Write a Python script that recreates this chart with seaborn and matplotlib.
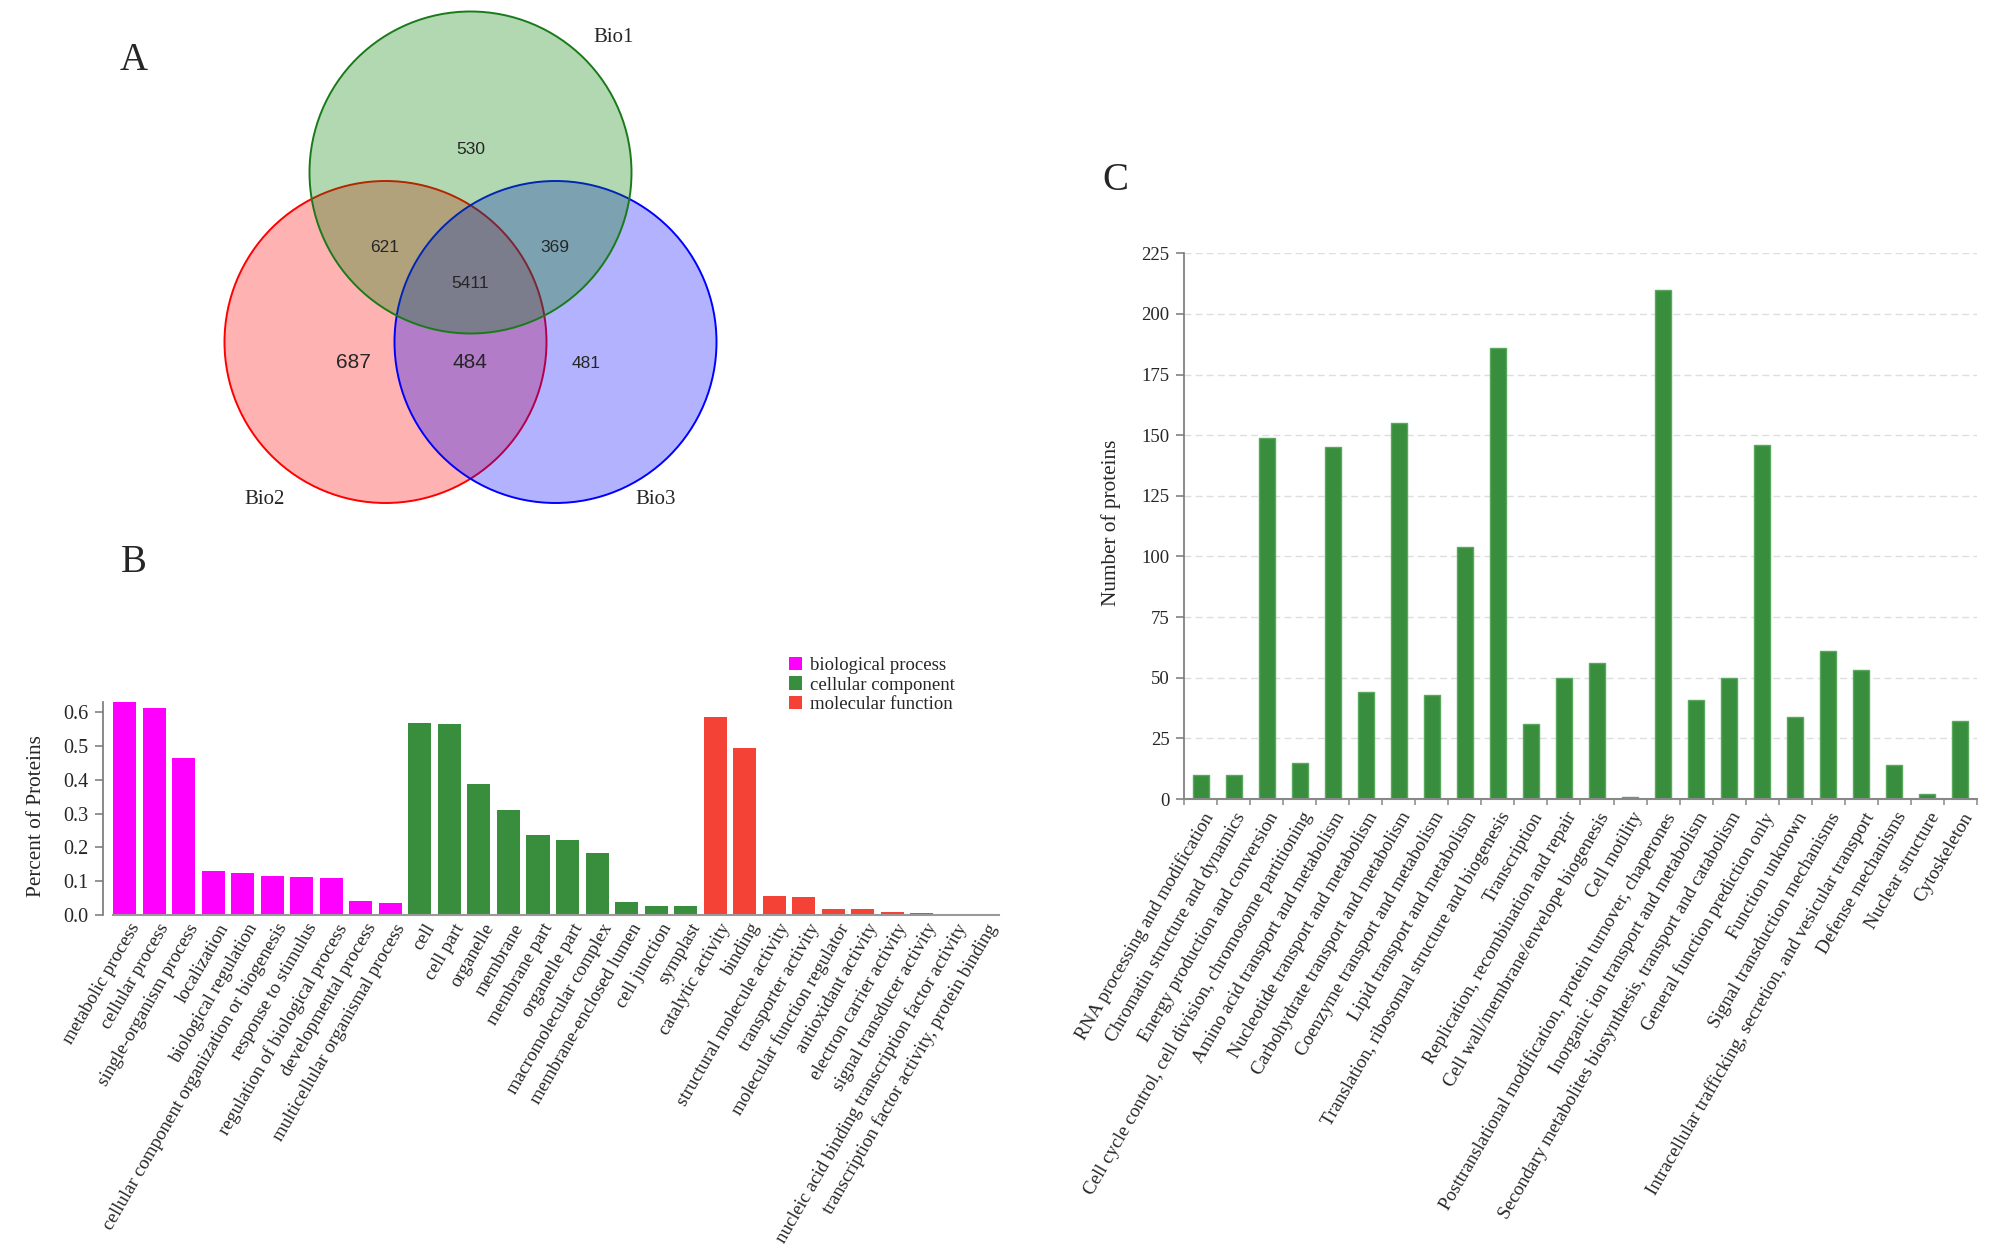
import matplotlib
matplotlib.use("Agg")
import matplotlib.pyplot as plt
from matplotlib.patches import Circle, Patch
from matplotlib.transforms import ScaledTranslation
import seaborn as sns
import pandas as pd

# ---------------- data ----------------
venn_names = ["Bio1", "Bio2", "Bio3"]
venn_only = [530, 687, 481]          # Bio1 only, Bio2 only, Bio3 only
venn_pairs = [621, 369, 484]         # 1&2, 1&3, 2&3
venn_all = 5411

bp_terms = ["metabolic process", "cellular process", "single-organism process",
            "localization", "biological regulation",
            "cellular component organization or biogenesis", "response to stimulus",
            "regulation of biological process", "developmental process",
            "multicellular organismal process"]
bp_values = [0.630, 0.611, 0.465, 0.131, 0.125, 0.115, 0.112, 0.110, 0.040, 0.035]
cc_terms = ["cell", "cell part", "organelle", "membrane", "membrane part",
            "organelle part", "macromolecular complex", "membrane-enclosed lumen",
            "cell junction", "symplast"]
cc_values = [0.569, 0.565, 0.388, 0.310, 0.237, 0.221, 0.184, 0.037, 0.027, 0.027]
mf_terms = ["catalytic activity", "binding", "structural molecule activity",
            "transporter activity", "molecular function regulator",
            "antioxidant activity", "electron carrier activity",
            "signal transducer activity",
            "nucleic acid binding transcription factor activity",
            "transcription factor activity, protein binding"]
mf_values = [0.586, 0.493, 0.056, 0.054, 0.018, 0.018, 0.010, 0.007, 0.004, 0.003]
go_groups = ["biological process", "cellular component", "molecular function"]
go_colors = ["#ff00ff", "#388e3c", "#f44336"]

cog_terms = ["RNA processing and modification", "Chromatin structure and dynamics",
             "Energy production and conversion",
             "Cell cycle control, cell division, chromosome partitioning",
             "Amino acid transport and metabolism", "Nucleotide transport and metabolism",
             "Carbohydrate transport and metabolism", "Coenzyme transport and metabolism",
             "Lipid transport and metabolism",
             "Translation, ribosomal structure and biogenesis", "Transcription",
             "Replication, recombination and repair",
             "Cell wall/membrane/envelope biogenesis", "Cell motility",
             "Posttranslational modification, protein turnover, chaperones",
             "Inorganic ion transport and metabolism",
             "Secondary metabolites biosynthesis, transport and catabolism",
             "General function prediction only", "Function unknown",
             "Signal transduction mechanisms",
             "Intracellular trafficking, secretion, and vesicular transport",
             "Defense mechanisms", "Nuclear structure", "Cytoskeleton"]
cog_values = [10, 10, 149, 15, 145, 44, 155, 43, 104, 186, 31, 50, 56, 1, 210,
              41, 50, 146, 34, 61, 53, 14, 2, 32]
c_yticks = [0, 25, 50, 75, 100, 125, 150, 175, 200, 225]
b_yticks = [0.0, 0.1, 0.2, 0.3, 0.4, 0.5, 0.6]

# ---------------- style ----------------
sns.set_style("white")
plt.rcParams["font.family"] = ["Liberation Serif", "DejaVu Serif"]
W, H = 2008, 1244
fig = plt.figure(figsize=(W / 100, H / 100), dpi=100)

def px_axes(left, top, right, bottom):
    return fig.add_axes([left / W, 1 - bottom / H, (right - left) / W, (bottom - top) / H])

# ---------------- panel A: Venn ----------------
axa = px_axes(0, 0, 800, 530)
axa.set_xlim(0, 800)
axa.set_ylim(530, 0)
axa.axis("off")
R = 161
circ = {"Bio2": ((385.5, 342), "#ff0000", "#ff0000"),
        "Bio3": ((555.5, 342), "#0000ff", "#0000ff"),
        "Bio1": ((470.5, 172.5), "#008000", "#1a7a1a")}
for name in ["Bio2", "Bio3", "Bio1"]:
    (cx, cy), fc, ec = circ[name]
    axa.add_patch(Circle((cx, cy), R, facecolor=fc, alpha=0.3, lw=0))
    axa.add_patch(Circle((cx, cy), R, facecolor="none", edgecolor=ec, lw=1.4))

sans = ["Liberation Sans", "DejaVu Sans"]
num_pos = [(471, 149), (353, 362), (586, 363)]
num_size = [12.5, 15, 12.5]
for v, (x, y), s in zip(venn_only, num_pos, num_size):
    axa.text(x, y, str(v), ha="center", va="center", fontsize=s, family=sans)
pair_pos = [(385, 247), (555, 247), (470, 362)]
pair_size = [12.5, 12.5, 15]
for v, (x, y), s in zip(venn_pairs, pair_pos, pair_size):
    axa.text(x, y, str(v), ha="center", va="center", fontsize=s, family=sans)
axa.text(470, 283, str(venn_all), ha="center", va="center", fontsize=12.5, family=sans)
lab_pos = [(614, 38), (265, 499), (656, 499)]
for n, (x, y) in zip(venn_names, lab_pos):
    axa.text(x, y, n, ha="center", va="center", fontsize=15)

# panel letters
fig.text(134 / W, 1 - 60 / H, "A", fontsize=28, ha="center", va="center")
fig.text(134 / W, 1 - 563 / H, "B", fontsize=28, ha="center", va="center")
fig.text(1115 / W, 1 - 180 / H, "C", fontsize=28, ha="center", va="center")

# ---------------- panel B: GO ----------------
dfb = pd.DataFrame({
    "term": bp_terms + cc_terms + mf_terms,
    "value": bp_values + cc_values + mf_values,
    "group": [go_groups[0]] * len(bp_terms) + [go_groups[1]] * len(cc_terms)
             + [go_groups[2]] * len(mf_terms),
})
axb = px_axes(113, 702, 999, 915)
sns.barplot(data=dfb, x="term", y="value", hue="group", hue_order=go_groups,
            order=list(dfb["term"]), palette=go_colors, dodge=False, width=0.78,
            legend=False, ax=axb, linewidth=1, edgecolor="none", saturation=1)
n_b = len(dfb)
for s in ["top", "right"]:
    axb.spines[s].set_visible(False)
axb.spines["left"].set_position(("outward", 7.2))
axb.spines["left"].set_color("#777777")
axb.spines["bottom"].set_color("#999999")
axb.spines["left"].set_linewidth(1.2)
axb.spines["bottom"].set_linewidth(1.5)
axb.set_xlim(-0.39, n_b - 0.39)
axb.set_ylim(0, 0.63)
axb.set_yticks(b_yticks)
axb.set_yticklabels([f"{t:.1f}" for t in b_yticks], fontsize=14.5)
axb.set_xlabel("")
axb.set_ylabel("")
axb.tick_params(axis="y", length=5.5, width=1.1, color="#777777", pad=5, left=True)
axb.tick_params(axis="x", length=0, pad=4, bottom=True)
axb.set_xticks(range(n_b))
axb.set_xticklabels(list(dfb["term"]), rotation=60, ha="right", va="top",
                    rotation_mode="anchor", fontsize=13.7)
off = ScaledTranslation(4 / 100, 0, fig.dpi_scale_trans)
for lab in axb.get_xticklabels():
    lab.set_transform(lab.get_transform() + off)
fig.text(37 / W, 1 - 816 / H, "Percent of Proteins", rotation=90, ha="center",
         va="center", fontsize=15.3)
handles = [Patch(facecolor=c, edgecolor="none") for c in go_colors]
fig.legend(handles, go_groups, loc="upper left", bbox_to_anchor=(789 / W, 1 - 657 / H),
           frameon=False, fontsize=13.5, handlelength=0.7, handleheight=0.7,
           handletextpad=0.4, labelspacing=0.12, borderpad=0, borderaxespad=0)

# ---------------- panel C: COG ----------------
axc = px_axes(1184, 253.3, 1977, 799)
sns.barplot(x=cog_terms, y=cog_values, color="#388e3c", width=0.485, ax=axc,
            saturation=1, linewidth=1, edgecolor="#5aa85e")
for s in ["top", "right"]:
    axc.spines[s].set_visible(False)
axc.spines["left"].set_color("#777777")
axc.spines["bottom"].set_color("#888888")
axc.spines["left"].set_linewidth(1.2)
axc.spines["bottom"].set_linewidth(1.5)
axc.set_xlim(-0.5, len(cog_terms) - 0.5)
axc.set_ylim(0, 225)
axc.set_yticks(c_yticks)
axc.set_yticklabels([str(t) for t in c_yticks], fontsize=13.5)
axc.yaxis.grid(True, linestyle=(0, (5, 3)), color="#dedede", lw=1)
axc.set_axisbelow(True)
axc.tick_params(axis="y", length=5.5, width=1.1, color="#777777", pad=5, left=True)
axc.set_xticks(range(len(cog_terms)))
axc.set_xticklabels(cog_terms, rotation=60, ha="right", va="top",
                    rotation_mode="anchor", fontsize=13.7)
axc.set_xticks([i - 0.5 for i in range(len(cog_terms) + 1)], minor=True)
axc.tick_params(axis="x", which="major", length=0, pad=7.5, bottom=True)
axc.tick_params(axis="x", which="minor", length=4.5, width=1.1, color="#888888", bottom=True)
offc = ScaledTranslation(1 / 100, 0, fig.dpi_scale_trans)
for lab in axc.get_xticklabels():
    lab.set_transform(lab.get_transform() + offc)
axc.set_xlabel("")
axc.set_ylabel("")
fig.text(1111 / W, 1 - 523 / H, "Number of proteins", rotation=90, ha="center",
         va="center", fontsize=15.3)

fig.savefig("out.png", dpi=100, facecolor="white")
